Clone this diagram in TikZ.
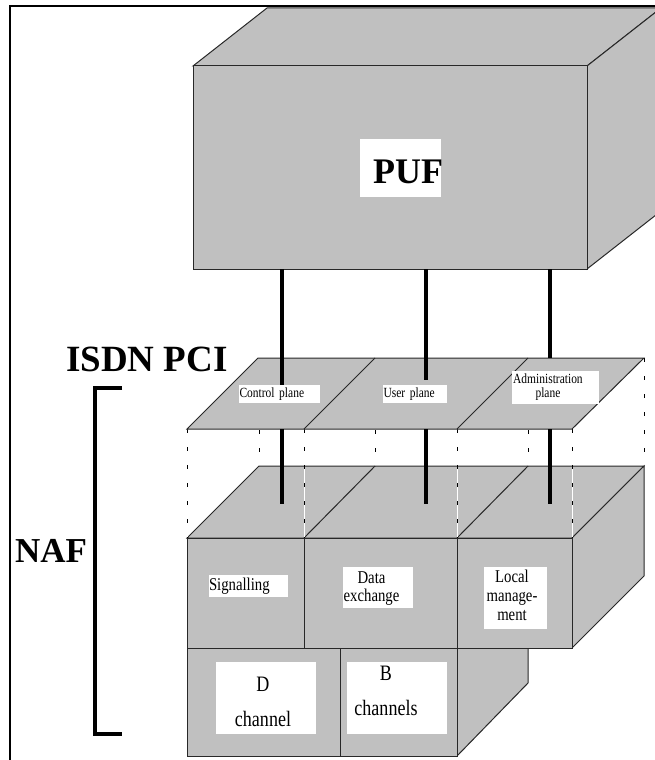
\documentclass[tikz,border=0pt]{standalone}
\usepackage{fontspec}
\setmainfont{Liberation Serif}
\newfontfamily\labelserif[FakeStretch=0.82]{Liberation Serif}
\definecolor{boxgray}{RGB}{192,192,192}
\definecolor{edgegray}{RGB}{40,40,40}
\newcommand\stackedtext[1]{\begin{tabular}[t]{@{}c@{}}#1\end{tabular}}
\begin{document}
\begin{tikzpicture}[x=1pt,y=-1pt,
  face/.style={fill=boxgray,draw=edgegray,line width=1pt,line join=miter},
  wire/.style={line width=3.4pt,black},
  frameline/.style={line width=2.6pt,black},
  bracketline/.style={line width=4pt,black,line cap=butt},
  guideunder/.style={draw=white,line width=1pt},
  guidedash/.style={draw=black,line width=1pt,dash pattern=on 4pt off 14pt},
  whitebox/.style={fill=white,inner sep=0pt,draw=none},
  planefont/.style={font=\labelserif\fontsize{14}{14}\selectfont},
  rowfont/.style={font=\labelserif\fontsize{18}{18.5}\selectfont},
  localfont/.style={font=\labelserif\fontsize{18}{19}\selectfont},
  chanfont/.style={font=\labelserif\fontsize{22}{35}\selectfont},
  bigbold/.style={font=\fontsize{36}{40}\selectfont\bfseries},
]
\useasboundingbox (0,0) rectangle (655,760);
\clip (0,0) rectangle (655,760);

% outer frame (top and left)
\draw[frameline] (10,762) -- (10,6) -- (660,6);

% ---- PUF box ----
\draw[face] (193,66) -- (267,8) -- (661,8) -- (587,66) -- cycle;
\draw[face] (587,66) -- (661,8) -- (661,211) -- (587,269) -- cycle;
\draw[face] (193,66) rectangle (587,269);
\node[whitebox,minimum width=81pt,minimum height=58pt] (pufbox) at (400.5,168) {};
\begin{scope}
  \clip (pufbox.south west) rectangle (pufbox.north east);
  \node[bigbold,anchor=base west,inner sep=0pt] (puf) at (373,183) {PUF};
\end{scope}

% ---- NAF block: lower row (D / B channels) ----
\draw[face] (457,648) -- (528,577) -- (528,683) -- (457,756) -- cycle;
\draw[face] (187,648) rectangle (340,756);
\draw[face] (340,648) rectangle (457,756);

% ---- NAF block: upper row (top face, right face, front) ----
\draw[face] (187,538) -- (259,466) -- (644,466) -- (572,538) -- cycle;
\draw[edgegray,line width=1pt] (304,538) -- (375,466) (457,538) -- (528,466);
\draw[face] (572,538) -- (644,466) -- (644,576) -- (572,648) -- cycle;
\draw[face] (187,538) rectangle (304,648);
\draw[face] (304,538) rectangle (457,648);
\draw[face] (457,538) rectangle (572,648);

% ---- dotted guides between the PCI plane and the NAF block ----
\foreach \x in {187,304,457,572} {
  \draw[guideunder] (\x,429) -- (\x,538);
  \draw[guidedash] (\x,429) -- (\x,538);
}
\foreach \x in {259,375,528,644} {
  \draw[guidedash] (\x,358) -- (\x,466);
}

% ---- ISDN PCI plane ----
\draw[face] (187,429) -- (258,358) -- (644,358) -- (572,429) -- cycle;
\draw[edgegray,line width=1pt] (304,429) -- (375,358) (457,429) -- (528,358);

% ---- wires from PUF through the plane into the NAF ----
\coordinate (pa) at (282,269); \coordinate (pb) at (426,269); \coordinate (pc) at (550,269);
\coordinate (qa) at (282,385); \coordinate (qb) at (426,380); \coordinate (qc) at (550,358);
\coordinate (ra) at (282,429); \coordinate (rb) at (426,429); \coordinate (rc) at (550,429);
\coordinate (sa) at (282,504); \coordinate (sb) at (426,504); \coordinate (sc) at (550,504);
\draw[wire] (pa) -- (qa) (pb) -- (qb) (pc) -- (qc);
\draw[wire] (ra) -- (sa) (rb) -- (sb) (rc) -- (sc);

% ---- plane labels ----
\node[whitebox,planefont,text width=81pt,minimum height=18pt,align=left] (ctrl) at (279.5,394) {\hspace*{0.5pt}Control plane};
\node[whitebox,planefont,text width=64pt,minimum height=18pt,align=left] (user) at (415,394) {\hspace*{0.5pt}User plane};
\node[whitebox,minimum width=87pt,minimum height=33pt] (admbox) at (555.5,387.5) {};
\node[planefont,anchor=base west,inner sep=0pt] (adm) at (513,383) {\stackedtext{Administration\\plane}};

% ---- NAF row labels ----
\node[whitebox,rowfont,text width=79pt,minimum height=22pt,align=left] (sig) at (248.5,586) {Signalling};
\node[whitebox,minimum width=70pt,minimum height=41pt] (databox) at (378,587.5) {};
\node[rowfont,anchor=base,inner sep=0pt] (data) at (371.5,583) {\stackedtext{Data\\exchange}};
\node[whitebox,minimum width=63pt,minimum height=62pt] (localbox) at (515.5,598) {};
\node[localfont,anchor=base,inner sep=0pt] (local) at (512,582) {\stackedtext{Local\\manage-\\ment}};

\node[whitebox,minimum width=100pt,minimum height=72pt] (dbox) at (266,698) {};
\node[chanfont,anchor=base,inner sep=0pt] (dch) at (263,691) {\stackedtext{D\\channel}};
\node[whitebox,minimum width=100pt,minimum height=72pt] (bbox) at (397,698) {};
\node[chanfont,anchor=base,inner sep=0pt] (bch) at (386,680) {\stackedtext{B\\channels}};

% ---- side titles and NAF bracket ----
\node[bigbold,anchor=base west,inner sep=0pt,font=\fontsize{37}{40}\selectfont\bfseries] (pci) at (66,371) {ISDN PCI};
\node[bigbold,anchor=base west,inner sep=0pt,font=\fontsize{35}{40}\selectfont\bfseries] (naf) at (15,562) {NAF};
\coordinate (bt) at (122,388); \coordinate (bb) at (122,734);
\draw[bracketline] (bt) -- (95,388) -- (95,734) -- (bb);
\end{tikzpicture}
\end{document}
